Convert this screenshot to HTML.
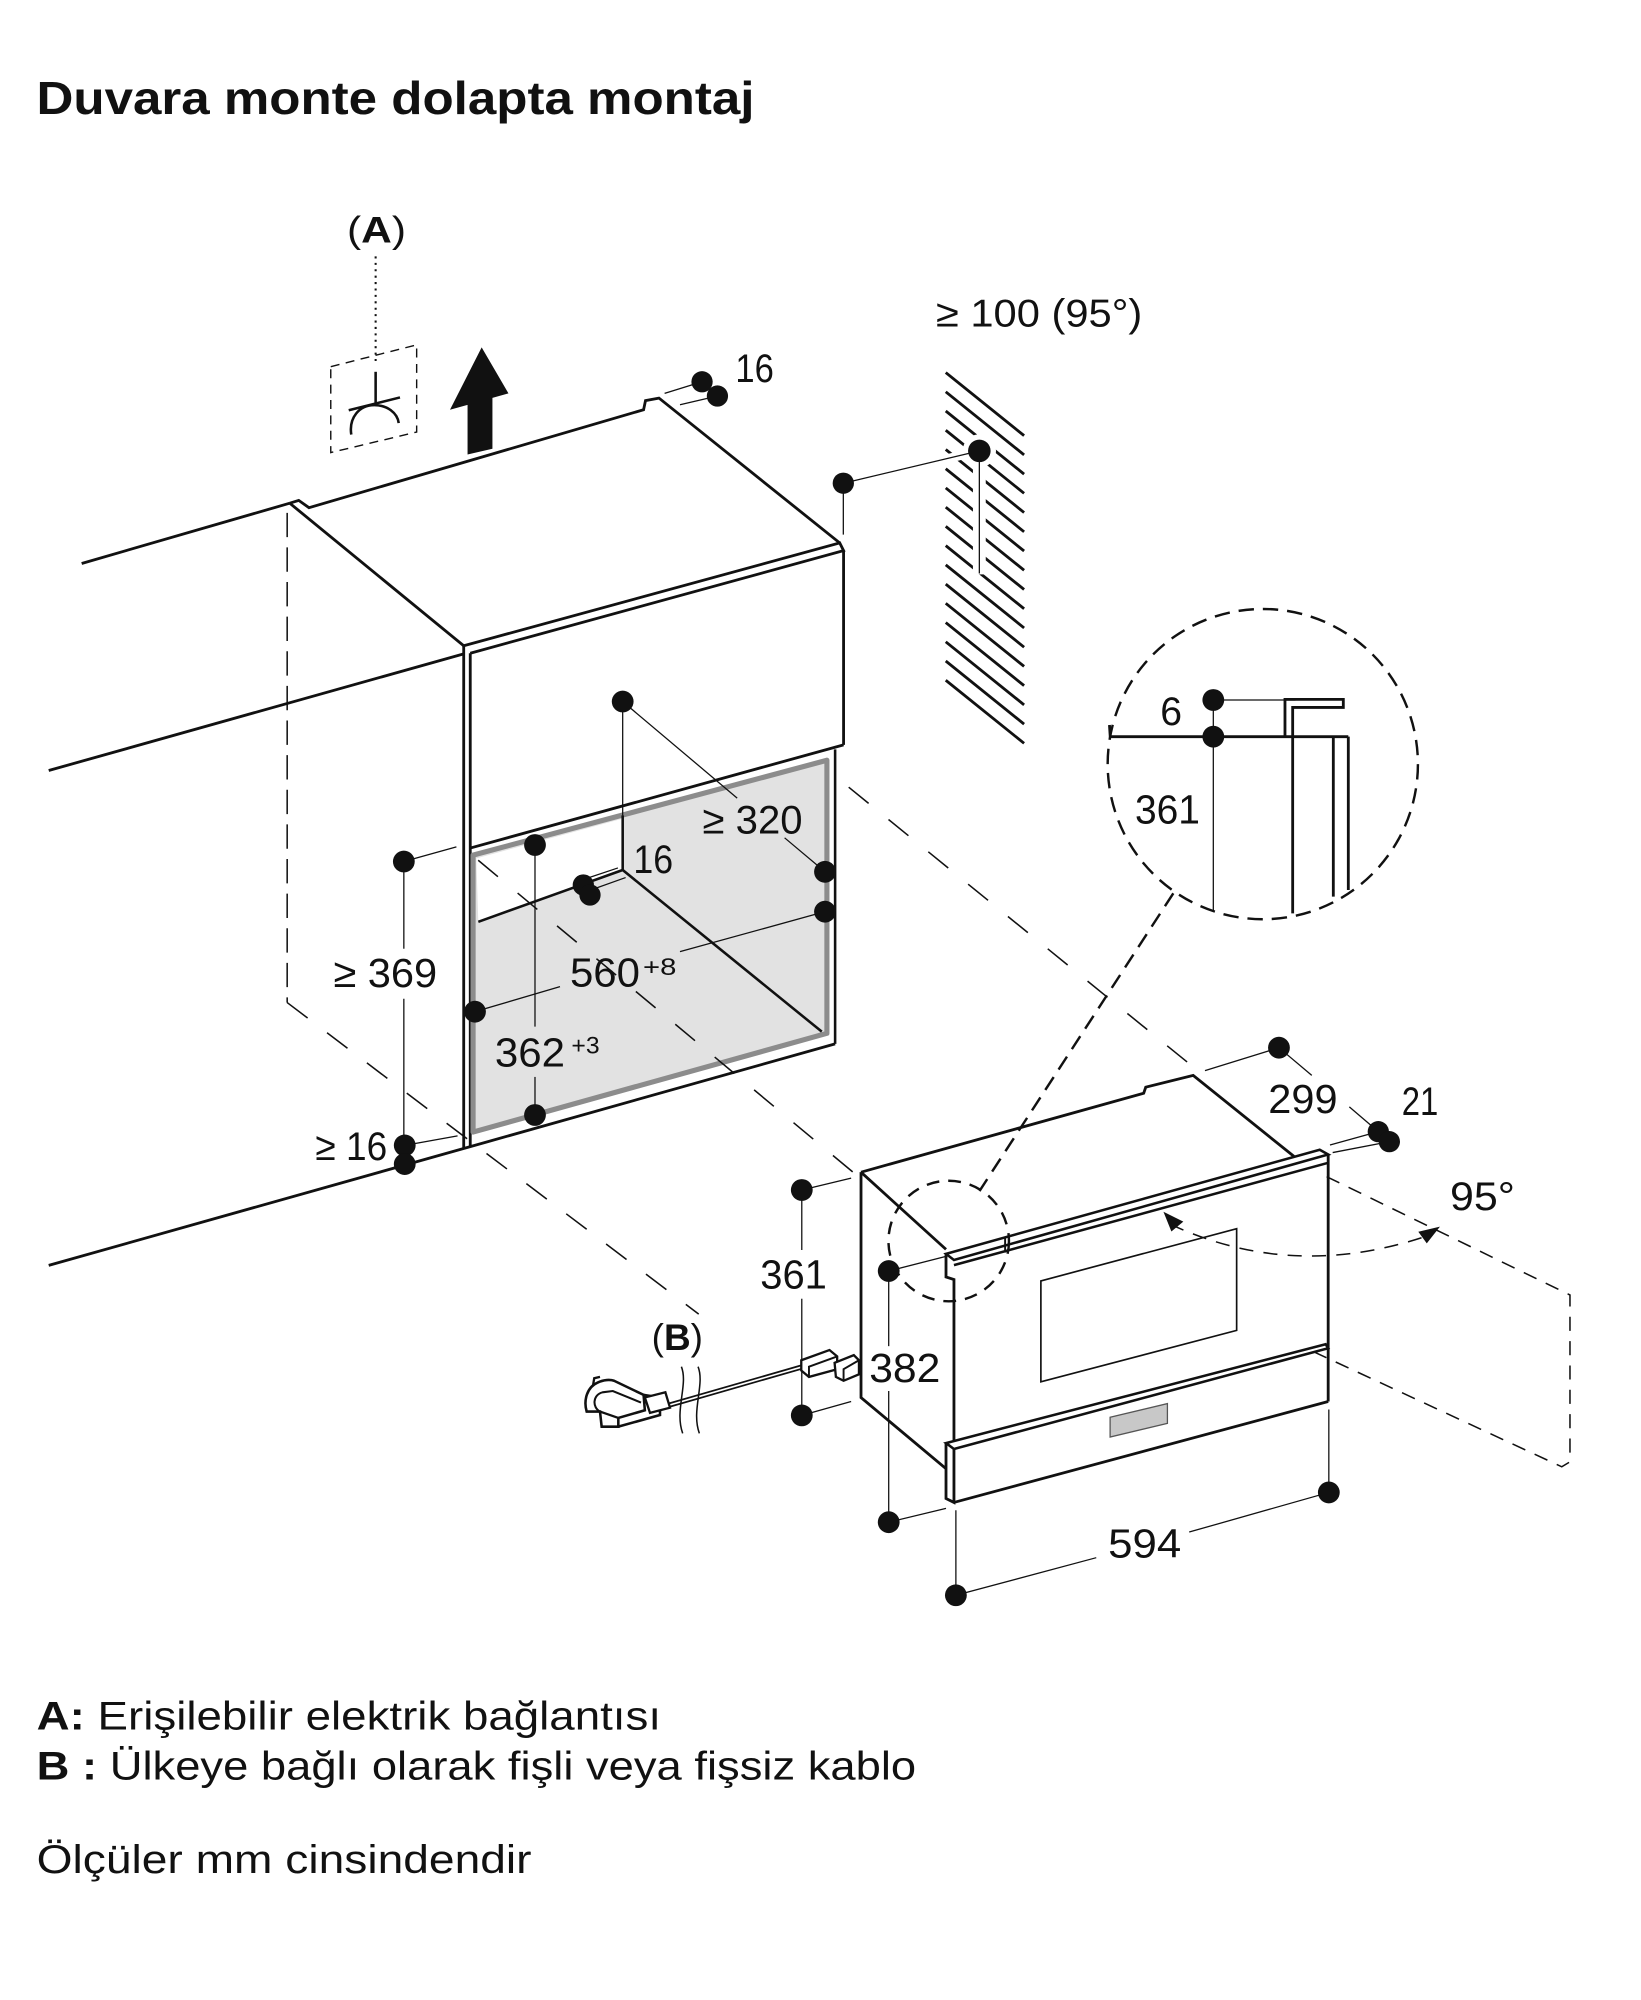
<!DOCTYPE html>
<html><head><meta charset="utf-8">
<style>
html,body{margin:0;padding:0;background:#fff;}
svg{display:block;}
text{font-family:"Liberation Sans",Arial,sans-serif;fill:#111;}
</style></head><body>
<svg width="1641" height="2000" viewBox="0 0 1280 1560" preserveAspectRatio="none" xmlns="http://www.w3.org/2000/svg">
<rect x="0" y="0" width="1280" height="1560" fill="#fff"/>

<!-- Title -->
<text x="28.5" y="89" font-size="36" font-weight="bold" textLength="560" lengthAdjust="spacingAndGlyphs">Duvara monte dolapta montaj</text>

<g fill="none" stroke="#111" stroke-linejoin="miter">

<!-- (A) symbol -->
<line x1="293" y1="200" x2="293" y2="282" stroke-width="1.6" stroke-dasharray="1.6 3.4"/>
<polygon points="258,286 325,269 325,337 258,353" stroke-width="1.1" stroke-dasharray="7 5"/>
<line x1="293" y1="290" x2="293" y2="314" stroke-width="2"/>
<line x1="272" y1="320" x2="312" y2="310" stroke-width="2"/>
<path d="M274,339 C272,326 280,316 292,316 C302,316 310,322 311,330" stroke-width="2"/>

<!-- cabinet top -->
<path d="M63.7,439.5 L226,392.5" stroke-width="2.2"/>
<path d="M226,392.5 L233,390.3 L241,396 L502,319.6 L503.5,312.5 L514,310.5 L655,423.5" stroke-width="2.2"/>
<path d="M226,392.5 L361.7,503.7" stroke-width="2.2"/>
<path d="M361.7,503.7 L655,423.5 L658,429.5 L366.8,509.5" stroke-width="2.2"/>
<path d="M658,429.5 L658,581" stroke-width="2.2"/>
<path d="M38,601 L361.7,510" stroke-width="2.2"/>
<path d="M361.7,503.7 L361.7,895.5" stroke-width="2.2"/>
<path d="M366.8,509.5 L366.8,894" stroke-width="2.2"/>
<path d="M366.8,661.5 L658,581" stroke-width="2.2"/>
<path d="M651.4,584.5 L651.4,814.2" stroke-width="2"/>
<path d="M38,987 L651.4,814.2" stroke-width="2.2"/>
</g>

<!-- niche gray frame -->
<polygon points="369,667 645,593 645,806 369,883" fill="#e2e2e2"/>
<polygon points="371.5,669.5 485.7,638.5 485.7,678.6 373.1,719" fill="#fff"/>
<polygon points="369,667 645,593 645,806 369,883" fill="none" stroke="#8c8c8c" stroke-width="4" stroke-linejoin="round"/>
<g fill="none" stroke="#111">
<path d="M373.1,719 L485.7,678.6 L641,804.7" stroke-width="2"/>
<path d="M485.7,636 L485.7,678.6" stroke-width="2"/>

<!-- arrow up -->
<polygon points="375.7,271 396.6,306.8 384.1,310.3 384.1,350 364.7,354.5 364.7,315.8 351,319.6" fill="#111" stroke="none"/>

<!-- dashed projection lines -->
<path d="M224,400 L224,782" stroke-width="1.2" stroke-dasharray="19 8"/>
<path d="M224,782 L545,1025" stroke-width="1.2" stroke-dasharray="20 19"/>
<path d="M373,671 L671,919" stroke-width="1.2" stroke-dasharray="20 20"/>
<path d="M662,614 L928,830" stroke-width="1.2" stroke-dasharray="20 20"/>

<!-- hatch wall -->
<g stroke-width="2.2">
<line x1="737.7" y1="290.6" x2="798.8" y2="339.8"/>
<line x1="737.7" y1="305.6" x2="798.8" y2="354.8"/>
<line x1="737.7" y1="320.6" x2="798.8" y2="369.8"/>
<line x1="737.7" y1="335.6" x2="798.8" y2="384.8"/>
<line x1="737.7" y1="350.6" x2="798.8" y2="399.8"/>
<line x1="737.7" y1="365.6" x2="798.8" y2="414.8"/>
<line x1="737.7" y1="380.6" x2="798.8" y2="429.8"/>
<line x1="737.7" y1="395.6" x2="798.8" y2="444.8"/>
<line x1="737.7" y1="410.6" x2="798.8" y2="459.8"/>
<line x1="737.7" y1="425.6" x2="798.8" y2="474.8"/>
<line x1="737.7" y1="440.6" x2="798.8" y2="489.8"/>
<line x1="737.7" y1="455.6" x2="798.8" y2="504.8"/>
<line x1="737.7" y1="470.6" x2="798.8" y2="519.8"/>
<line x1="737.7" y1="485.6" x2="798.8" y2="534.8"/>
<line x1="737.7" y1="500.6" x2="798.8" y2="549.8"/>
<line x1="737.7" y1="515.6" x2="798.8" y2="564.8"/>
<line x1="737.7" y1="530.6" x2="798.8" y2="579.8"/>
</g>
<line x1="763.9" y1="345" x2="763.9" y2="448" stroke="#fff" stroke-width="10"/>
<line x1="736" y1="358.5" x2="763.9" y2="351.7" stroke="#fff" stroke-width="7"/>
<circle cx="763.9" cy="351.7" r="13" fill="#fff" stroke="none"/>

<!-- thin dimension lines (cabinet) -->
<g stroke-width="1">
<line x1="518.4" y1="306.8" x2="547.6" y2="297.8"/>
<line x1="530.4" y1="315.7" x2="559.6" y2="308.9"/>
<line x1="657.8" y1="376.9" x2="657.8" y2="417"/>
<line x1="657.8" y1="376.9" x2="763.9" y2="351.7"/>
<line x1="763.9" y1="351.7" x2="763.9" y2="447.3"/>
<line x1="485.7" y1="547.2" x2="485.7" y2="636"/>
<line x1="485.7" y1="547.2" x2="575" y2="622.5"/>
<line x1="612" y1="653.5" x2="643.5" y2="680"/>
<line x1="315" y1="672" x2="356" y2="660.6"/>
<line x1="315" y1="672" x2="315" y2="740"/>
<line x1="315" y1="779" x2="315" y2="893"/>
<line x1="315.7" y1="893.4" x2="356.9" y2="886"/>
<line x1="417.3" y1="659.1" x2="417.3" y2="800.8"/>
<line x1="417.3" y1="840" x2="417.3" y2="869.7"/>
<line x1="370.5" y1="789.1" x2="436.8" y2="769.6"/>
<line x1="530.4" y1="742.3" x2="643.5" y2="711.1"/>
<line x1="455" y1="686" x2="482" y2="677"/>
<line x1="460" y1="694.5" x2="488" y2="684.5"/>
</g>
</g>

<!-- dots (cabinet) -->
<g fill="#111">
<circle cx="547.6" cy="297.8" r="8.3"/>
<circle cx="559.6" cy="308.9" r="8.3"/>
<circle cx="657.8" cy="376.9" r="8.3"/>
<circle cx="763.9" cy="351.7" r="8.8"/>
<circle cx="485.7" cy="547.2" r="8.5"/>
<circle cx="643.5" cy="680" r="8.5"/>
<circle cx="643.5" cy="711.1" r="8.5"/>
<circle cx="417.3" cy="659.1" r="8.5"/>
<circle cx="417.3" cy="869.7" r="8.5"/>
<circle cx="370.5" cy="789.1" r="8.5"/>
<circle cx="455" cy="690.3" r="8.3"/>
<circle cx="460.2" cy="698.1" r="8.3"/>
<circle cx="315" cy="672" r="8.5"/>
<circle cx="315.7" cy="893.4" r="8.5"/>
<circle cx="315.7" cy="908" r="8.5"/>
</g>

<!-- detail circle -->
<g fill="none" stroke="#111">
<circle cx="985" cy="596" r="121" stroke-width="1.9" stroke-dasharray="12 7"/>
<path d="M865.4,565.5 L866,574.6 L1051.7,574.6" stroke-width="2.2"/>
<line x1="946.4" y1="546" x2="946.4" y2="711" stroke-width="1"/>
<line x1="946.4" y1="546" x2="1010.5" y2="546" stroke-width="1"/>
<path d="M1002.3,574.6 L1002.3,545.5 L1047.8,545.5 L1047.8,551.8 L1008.3,551.8 L1008.3,712.4" stroke-width="2.2"/>
<path d="M1040,574.6 L1040,699.4" stroke-width="2.2"/>
<path d="M1051.7,574.6 L1051.7,694.2" stroke-width="2.2"/>
</g>
<circle cx="946.4" cy="546" r="8.5" fill="#111"/>
<circle cx="946.4" cy="574.6" r="8.5" fill="#111"/>

<!-- appliance -->
<g fill="none" stroke="#111" stroke-linejoin="miter">
<path d="M671.6,914.3 L892.1,852.7 L893.7,848 L930.7,838.8 L1009.3,902" stroke-width="2.2"/>
<path d="M671.6,914.3 L737.9,974.5" stroke-width="2.2"/>
<path d="M671.6,914.3 L671.6,1090.1 L737.9,1145.6" stroke-width="2.2"/>
<path d="M737.9,978 L1029.4,896.8 L1036,900.5 L744.1,982.8 Z" fill="#fff" stroke-width="2"/>
<path d="M744.1,986.8 L1036,907" stroke-width="2"/>
<path d="M1036,900.5 L1036,1093.2" stroke-width="2.2"/>
<path d="M737.9,978 L737.9,996 L744.1,998 L744.1,1127" stroke-width="2.2"/>
<path d="M784,965 L784,977" stroke-width="1.5"/>
<polygon points="811.9,999.1 964.6,958.4 964.6,1037.7 811.9,1077.8" stroke-width="1.3"/>
<path d="M737.9,1125.6 L1034,1048.5 L1036,1051.6 L744.1,1130.2 Z" fill="#fff" stroke-width="2"/>
<path d="M744.1,1130.2 L744.1,1171.9 L737.9,1168.8 L737.9,1125.6" stroke-width="2.2"/>
<path d="M744.1,1171.9 L1036,1093.2" stroke-width="2.2"/>
<polygon points="865.9,1105.5 910.6,1094.8 910.6,1110.2 865.9,1120.9" fill="#c8c8c8" stroke="#555" stroke-width="1"/>

<!-- small dashed circle and leader -->
<circle cx="740" cy="968" r="47" stroke-width="1.9" stroke-dasharray="10 7"/>
<path d="M915.2,696.8 L764,929" stroke-width="1.9" stroke-dasharray="12 7"/>

<!-- door swing -->
<path d="M1034.8,917.8 L1224.6,1010.1 L1224.6,1140.2 L1218.2,1144.1 L1026,1055" stroke-width="1.2" stroke-dasharray="11 8"/>
<path d="M913,955 Q1010,1000 1116,963" stroke-width="1.2" stroke-dasharray="11 8"/>

<!-- appliance dimension lines -->
<g stroke-width="1">
<line x1="625.4" y1="928.2" x2="663.9" y2="918.9"/>
<line x1="625.4" y1="1104" x2="663.9" y2="1093.2"/>
<line x1="625.4" y1="928.2" x2="625.4" y2="975"/>
<line x1="625.4" y1="1013" x2="625.4" y2="1104"/>
<line x1="693.2" y1="991.4" x2="737.9" y2="980"/>
<line x1="693.2" y1="1187.3" x2="737.9" y2="1176.5"/>
<line x1="693.2" y1="991.4" x2="693.2" y2="1050"/>
<line x1="693.2" y1="1085" x2="693.2" y2="1187.3"/>
<line x1="745.6" y1="1178" x2="745.6" y2="1244.3"/>
<line x1="1036.5" y1="1099.4" x2="1036.5" y2="1164.1"/>
<line x1="745.6" y1="1244.3" x2="855.1" y2="1215"/>
<line x1="927.6" y1="1195" x2="1036.5" y2="1164.1"/>
<line x1="997.6" y1="817.2" x2="939.9" y2="835.1"/>
<line x1="997.6" y1="817.2" x2="1023.2" y2="838.8"/>
<line x1="1052.5" y1="863.4" x2="1075.1" y2="882.7"/>
<line x1="1037.4" y1="893.1" x2="1075.1" y2="882.7"/>
<line x1="1039.5" y1="899" x2="1083.7" y2="890.5"/>
</g>
</g>

<!-- arrowheads -->
<polygon points="907.5,945.2 923,952.9 913.7,960.6" fill="#111"/>
<polygon points="1123.2,956.8 1106.3,960.8 1112.9,969.8" fill="#111"/>

<!-- appliance dots -->
<g fill="#111">
<circle cx="625.4" cy="928.2" r="8.5"/>
<circle cx="625.4" cy="1104" r="8.5"/>
<circle cx="693.2" cy="991.4" r="8.5"/>
<circle cx="693.2" cy="1187.3" r="8.5"/>
<circle cx="745.6" cy="1244.3" r="8.5"/>
<circle cx="1036.5" cy="1164.1" r="8.5"/>
<circle cx="997.6" cy="817.2" r="8.5"/>
<circle cx="1075.1" cy="882.7" r="8.3"/>
<circle cx="1083.7" cy="890.5" r="8.3"/>
</g>

<!-- cable and plug -->
<g fill="none" stroke="#111">
<path d="M522,1096 L628,1065.5" stroke-width="4"/>
<path d="M522,1096 L628,1065.5" stroke="#fff" stroke-width="1.3"/>
<path d="M531.5,1066 C537,1080 526,1100 532.5,1118" stroke-width="1.2"/>
<path d="M544.5,1066 C550,1080 539,1100 545.5,1118" stroke-width="1.2"/>
<path d="M457.6,1101 C455,1092 458,1082 466,1078.5 C471,1076 476,1076 479,1077 L502,1088 L503,1100 L482.3,1106 L482.3,1112.8 L469.3,1112.8 L468,1101 Z" fill="#fff" stroke-width="2"/>
<path d="M468,1101 L482.3,1106" stroke-width="1.8"/>
<path d="M468,1101 C462,1098 462,1088 470,1086 L478,1085 L500,1094" stroke-width="1.6"/>
<path d="M482.3,1112.8 L514.8,1103.7 L514.8,1090 L502,1088" stroke-width="2"/>
<polygon points="503,1090 519,1086 522.6,1098 507,1102" fill="#fff" stroke-width="1.8"/>
<path d="M462.5,1081 L463.5,1075 L468,1074" stroke-width="1.8"/>
<polygon points="625,1061 647,1053 653,1058 653,1068 631,1074 625,1069" fill="#fff" stroke-width="1.8"/>
<path d="M631,1074 L631,1066 L653,1058" stroke-width="1.5"/>
<polygon points="651,1063 666,1057 670,1061 670,1072 658,1077 652,1074" fill="#fff" stroke-width="1.8"/>
<path d="M658,1077 L658,1068 L670,1061" stroke-width="1.5"/>
</g>

<!-- labels -->
<text x="270.7" y="189" font-size="29" textLength="46" lengthAdjust="spacingAndGlyphs">(<tspan font-weight="bold">A</tspan>)</text>
<text x="573.6" y="298" font-size="31" textLength="30" lengthAdjust="spacingAndGlyphs">16</text>
<text x="730" y="254.7" font-size="30" textLength="161" lengthAdjust="spacingAndGlyphs">≥ 100 (95°)</text>
<text x="905" y="565.5" font-size="31" textLength="17" lengthAdjust="spacingAndGlyphs">6</text>
<text x="885.3" y="642.2" font-size="32" textLength="50.7" lengthAdjust="spacingAndGlyphs">361</text>
<text x="548" y="650" font-size="31" textLength="78" lengthAdjust="spacingAndGlyphs">≥ 320</text>
<text x="494" y="681" font-size="31" textLength="31" lengthAdjust="spacingAndGlyphs">16</text>
<text x="260" y="770" font-size="32" textLength="81" lengthAdjust="spacingAndGlyphs">≥ 369</text>
<text x="444.6" y="769.6" font-size="32" textLength="54.6" lengthAdjust="spacingAndGlyphs">560</text>
<text x="501.6" y="760.5" font-size="19" textLength="26" lengthAdjust="spacingAndGlyphs">+8</text>
<text x="386" y="832" font-size="32" textLength="54.7" lengthAdjust="spacingAndGlyphs">362</text>
<text x="445.7" y="821.6" font-size="19" textLength="22" lengthAdjust="spacingAndGlyphs">+3</text>
<text x="246" y="904.7" font-size="31" textLength="56" lengthAdjust="spacingAndGlyphs">≥ 16</text>
<text x="593" y="1005" font-size="32" textLength="52" lengthAdjust="spacingAndGlyphs">361</text>
<text x="678" y="1078" font-size="32" textLength="55.5" lengthAdjust="spacingAndGlyphs">382</text>
<text x="864.4" y="1215" font-size="32" textLength="57" lengthAdjust="spacingAndGlyphs">594</text>
<text x="989.3" y="868" font-size="32" textLength="54" lengthAdjust="spacingAndGlyphs">299</text>
<text x="1093.4" y="869.7" font-size="31" textLength="28.5" lengthAdjust="spacingAndGlyphs">21</text>
<text x="1131" y="944" font-size="31" textLength="50.7" lengthAdjust="spacingAndGlyphs">95°</text>
<text x="508.3" y="1053" font-size="29" textLength="40" lengthAdjust="spacingAndGlyphs">(<tspan font-weight="bold">B</tspan>)</text>

<!-- legend -->
<text x="28.6" y="1349" font-size="31" textLength="487" lengthAdjust="spacingAndGlyphs"><tspan font-weight="bold">A:</tspan> Erişilebilir elektrik bağlantısı</text>
<text x="28.6" y="1388" font-size="31" textLength="686" lengthAdjust="spacingAndGlyphs"><tspan font-weight="bold">B :</tspan> Ülkeye bağlı olarak fişli veya fişsiz kablo</text>
<text x="28.6" y="1461" font-size="31" textLength="386" lengthAdjust="spacingAndGlyphs">Ölçüler mm cinsindendir</text>
</svg>
</body></html>
